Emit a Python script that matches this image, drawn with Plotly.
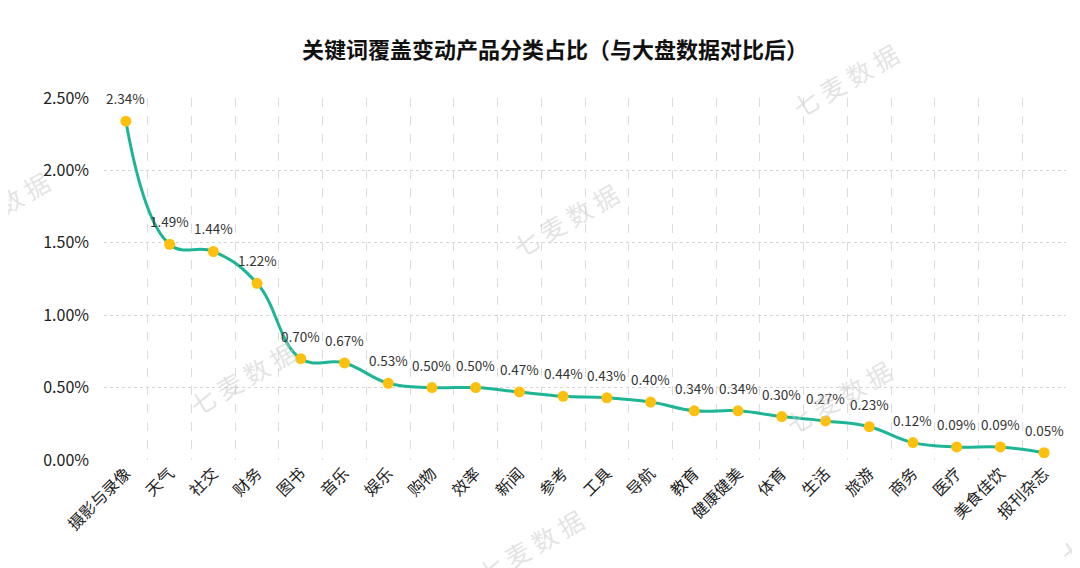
import plotly.graph_objects as go

categories = ['摄影与录像', '天气', '社交', '财务', '图书', '音乐', '娱乐', '购物', '效率', '新闻', '参考',
              '工具', '导航', '教育', '健康健美', '体育', '生活', '旅游', '商务', '医疗', '美食佳饮', '报刊杂志']
shares = [2.34, 1.49, 1.44, 1.22, 0.70, 0.67, 0.53, 0.50, 0.50, 0.47, 0.44,
          0.43, 0.40, 0.34, 0.34, 0.30, 0.27, 0.23, 0.12, 0.09, 0.09, 0.05]
y_ticks = [0, 0.5, 1.0, 1.5, 2.0, 2.5]
y_ticktext = ['%.2f%%' % v for v in y_ticks]

# the page puts the figure 8px in from the top-left corner (body margin)
OFF = 8
W, H = 1080 - OFF, 568 - OFF
L, R, T, B = 104 - OFF, W - (1066 - OFF), 98 - OFF, H - (460 - OFF)
FONT = 'Noto Sans CJK SC'


def px(x, y):
    # screen pixel -> paper coordinates
    x, y = x - OFF, y - OFF
    return (x - L) / (W - L - R), 1 - (y - T) / (H - T - B)


fig = go.Figure()
fig.add_trace(go.Scatter(
    x=categories, y=shares, mode='lines+markers',
    line=dict(color='#1db596', width=3, shape='spline', smoothing=1.2),
    marker=dict(color='#fdc00f', size=11),
    hoverinfo='x+y'))

for c, v in zip(categories, shares):
    fig.add_annotation(x=c, y=v, text='%.2f%%' % v, showarrow=False, yshift=23,
                       font=dict(size=13.5, color='#333333', family=FONT))

# watermark
for (wx, wy) in [(845, 80), (565, 220), (242, 378), (838, 397), (530, 546), (-4, 208), (1113, 527)]:
    ax, ay = px(wx, wy)
    fig.add_annotation(xref='paper', yref='paper', x=ax, y=ay, text='七 麦 数 据',
                       xanchor='center', yanchor='middle',
                       showarrow=False, textangle=-30,
                       font=dict(size=25, color='rgba(200,200,200,0.5)', family=FONT))

fig.update_layout(
    width=W, height=H,
    margin=dict(l=L, r=R, t=T, b=B),
    paper_bgcolor='white', plot_bgcolor='white',
    showlegend=False,
    font=dict(family=FONT, color='#222222'),
    title=dict(text='<b>关键词覆盖变动产品分类占比（与大盘数据对比后）</b>',
               x=(555 - OFF) / W, y=1 - (50 - OFF) / H, xref='container', yref='container',
               xanchor='center', yanchor='middle',
               font=dict(size=22, color='#111111', family=FONT)),
    xaxis=dict(range=[-0.5, len(categories) - 0.5], tickson='boundaries',
               showgrid=True, gridcolor='#dcdcdc', griddash='dash',
               gridwidth=1, tickangle=-45, ticks='', showline=False, zeroline=False,
               tickfont=dict(size=16, color='#222222'), automargin=False),
    yaxis=dict(range=[0, 2.5], tickvals=y_ticks, ticktext=y_ticktext,
               showgrid=True, gridcolor='#d6d6d6', griddash='dot', gridwidth=1,
               zeroline=False, showline=False, ticks='', ticklabelstandoff=14,
               tickfont=dict(size=16, color='#222222'), automargin=False),
)

fig.write_html('out.html')
